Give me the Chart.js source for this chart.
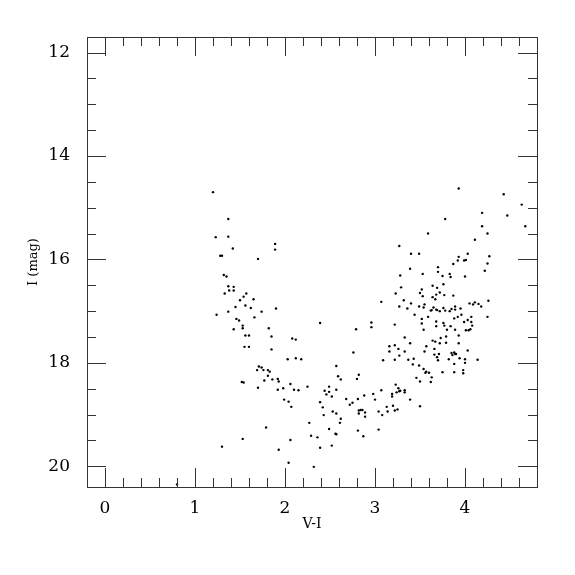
<HTML>

<head>
  <script src="https://cdn.jsdelivr.net/npm/chart.js@4.4.0/dist/chart.umd.min.js"></script>
  <style>
    body {
      margin: 0;
      background-color: white;
    }
  </style>
</head>

<body>
  <canvas id="myChart" width="575" height="575"></canvas>

  <script>
    // V-I colour and I magnitude
    var vi = [
      1.20, 1.37, 1.23, 1.37, 1.42, 1.89, 1.89, 1.28, 1.30, 1.70, 1.32, 1.35, 1.37, 1.43, 1.38, 1.43, 1.33, 1.57, 1.54, 1.50,
      1.65, 1.45, 1.56, 1.62, 1.90, 1.24, 1.37, 1.74, 1.66, 1.46, 1.49, 1.53, 1.53, 1.43, 1.82, 2.39,
      2.79, 1.56, 1.60, 1.85, 2.08, 2.12, 1.55, 1.60, 1.85, 2.76, 2.03, 2.12, 2.18, 2.57, 1.71, 1.74, 1.69, 1.76, 1.81, 1.83,
      2.82, 2.59, 1.81, 2.80, 2.62, 1.92, 1.77, 1.86, 1.93, 1.52, 1.54, 2.06, 2.49, 2.25, 1.70, 1.92, 1.98, 2.10, 2.15, 2.44,
      2.49, 2.57, 2.46, 2.52, 2.68, 2.81, 2.75, 2.72, 1.99, 2.04, 2.39, 2.07, 2.42, 2.82, 2.53, 2.57, 2.82, 2.43, 2.62, 2.61,
      2.27, 1.79, 2.49, 2.81, 2.56, 2.57, 2.29, 2.36, 1.53, 2.06, 2.52, 2.39, 1.30, 1.93, 2.04, 2.32, 0.80,
      3.93, 4.43, 4.63, 4.19, 4.47, 3.78, 4.67, 4.19, 3.59, 4.25, 4.11, 3.27, 3.40, 3.49, 4.03, 4.27, 3.93, 3.92, 3.99, 4.01,
      4.25, 3.87, 3.70, 3.39, 3.70, 3.83, 4.22, 3.28, 3.53, 3.75, 3.84, 4.00, 3.76, 3.29, 3.64, 3.69, 3.52, 3.72, 3.50, 3.68,
      3.23, 3.53, 3.64, 3.77, 3.87, 3.32, 3.67, 3.07, 3.40, 4.05, 4.09, 4.11, 4.15, 4.18, 4.26, 3.27, 3.36, 3.49, 3.54, 3.55,
      3.62, 3.63, 3.65, 3.68, 3.69, 3.72, 3.76, 3.78, 3.83, 3.85, 3.89, 3.89, 3.95, 3.88, 3.92, 3.96, 3.99, 4.03, 4.07, 4.07,
      4.25, 3.44, 3.52, 3.59, 3.68, 3.68, 3.52, 3.76, 3.77, 3.84, 2.96, 2.96, 3.22,
      4.08, 3.54, 3.80, 3.89, 4.01, 4.04, 4.06, 3.93, 3.79, 3.73, 3.33, 3.64, 3.67, 3.72, 3.79, 3.93, 3.16, 3.22, 3.39, 3.26,
      3.57, 3.66, 3.16, 3.33, 3.55, 4.03, 3.66, 3.71, 3.85, 3.88, 3.89, 3.86, 3.90, 3.27, 3.69, 3.94, 4.00, 4.14, 3.82, 3.70,
      3.09, 3.22, 3.37, 3.43, 4.00, 3.88, 3.42, 3.49, 3.54, 3.57, 3.56, 3.60, 3.75, 3.88, 3.98, 3.98, 3.63, 3.46, 3.50, 3.62,
      3.23, 3.26, 3.28, 3.27, 3.24, 3.33, 3.33, 3.07, 2.98, 3.19, 3.19, 2.88, 3.00, 3.39, 3.13, 3.20, 3.50, 2.84, 2.86, 2.89,
      3.04, 3.14, 3.22, 3.25, 3.08, 2.89, 3.04, 2.87
    ];
    var imag = [
      14.70, 15.22, 15.57, 15.56, 15.79, 15.70, 15.81, 15.93, 15.93, 15.99, 16.30, 16.33, 16.52, 16.53, 16.60, 16.60, 16.66, 16.66, 16.72, 16.79,
      16.77, 16.92, 16.89, 16.94, 16.95, 17.07, 17.01, 17.01, 17.12, 17.15, 17.18, 17.28, 17.33, 17.35, 17.33, 17.23,
      17.35, 17.47, 17.47, 17.49, 17.53, 17.55, 17.69, 17.69, 17.74, 17.80, 17.93, 17.91, 17.93, 18.06, 18.07, 18.09, 18.14, 18.14, 18.14, 18.17,
      18.23, 18.26, 18.25, 18.31, 18.32, 18.31, 18.34, 18.32, 18.36, 18.37, 18.38, 18.41, 18.46, 18.46, 18.48, 18.52, 18.49, 18.52, 18.53, 18.54,
      18.56, 18.52, 18.61, 18.65, 18.70, 18.70, 18.77, 18.81, 18.71, 18.75, 18.76, 18.85, 18.86, 18.92, 18.94, 18.98, 18.98, 19.01, 19.08, 19.16,
      19.16, 19.25, 19.28, 19.31, 19.37, 19.38, 19.41, 19.44, 19.47, 19.49, 19.60, 19.64, 19.62, 19.68, 19.93, 20.01, 20.35,
      14.63, 14.74, 14.94, 15.10, 15.15, 15.22, 15.36, 15.36, 15.50, 15.50, 15.62, 15.74, 15.89, 15.89, 15.89, 15.94, 15.95, 16.02, 16.02, 16.01,
      16.08, 16.09, 16.15, 16.18, 16.24, 16.28, 16.22, 16.31, 16.28, 16.32, 16.34, 16.33, 16.48, 16.54, 16.51, 16.55, 16.58, 16.64, 16.65, 16.68,
      16.66, 16.71, 16.73, 16.69, 16.70, 16.79, 16.77, 16.82, 16.85, 16.85, 16.87, 16.83, 16.86, 16.91, 16.80, 16.91, 16.95, 16.91, 16.93, 16.87,
      16.99, 16.98, 16.93, 16.97, 16.98, 17.00, 16.94, 16.99, 17.00, 16.96, 16.91, 16.97, 16.95, 17.14, 17.11, 17.07, 17.21, 17.17, 17.11, 17.21,
      17.11, 17.07, 17.15, 17.11, 17.20, 17.29, 17.24, 17.23, 17.28, 17.29, 17.22, 17.31, 17.26,
      17.28, 17.36, 17.36, 17.36, 17.37, 17.37, 17.35, 17.47, 17.49, 17.52, 17.51, 17.57, 17.59, 17.62, 17.61, 17.62, 17.68, 17.66, 17.62, 17.73,
      17.68, 17.73, 17.78, 17.78, 17.78, 17.76, 17.84, 17.83, 17.81, 17.80, 17.83, 17.85, 17.83, 17.86, 17.89, 17.91, 17.93, 17.94, 17.93, 17.95,
      17.95, 17.94, 17.94, 17.92, 18.00, 18.02, 18.03, 18.05, 18.12, 18.17, 18.19, 18.19, 18.18, 18.18, 18.14, 18.20, 18.28, 18.29, 18.36, 18.37,
      18.42, 18.49, 18.54, 18.55, 18.57, 18.53, 18.57, 18.53, 18.60, 18.60, 18.65, 18.63, 18.71, 18.71, 18.85, 18.83, 18.84, 18.91, 18.91, 18.96,
      18.94, 18.94, 18.92, 18.90, 19.01, 19.04, 19.29, 19.42
    ];
    var xTicks = [0, 1, 2, 3, 4];
    var yTicks = [12, 14, 16, 18, 20];
    var xMinor = [0.2, 0.4, 0.6, 0.8, 1.2, 1.4, 1.6, 1.8, 2.2, 2.4, 2.6, 2.8, 3.2, 3.4, 3.6, 3.8, 4.2, 4.4, 4.6];
    var yMinor = [12.5, 13, 13.5, 14.5, 15, 15.5, 16.5, 17, 17.5, 18.5, 19, 19.5];

    var points = vi.map(function (v, i) { return { x: v, y: imag[i] }; });

    // box with inward ticks on all four sides
    var frameTicks = {
      id: 'frameTicks',
      afterDraw: function (chart) {
        var ctx = chart.ctx;
        var a = chart.chartArea;
        var xs = chart.scales.x;
        var ys = chart.scales.y;
        ctx.save();
        ctx.strokeStyle = '#333';
        ctx.lineWidth = 1;
        ctx.strokeRect(a.left + 0.5, a.top + 0.5, a.right - a.left, a.bottom - a.top);
        ctx.beginPath();
        function xt(v, len) {
          var p = Math.round(xs.getPixelForValue(v)) + 0.5;
          ctx.moveTo(p, a.bottom); ctx.lineTo(p, a.bottom - len);
          ctx.moveTo(p, a.top); ctx.lineTo(p, a.top + len);
        }
        function yt(v, len) {
          var p = Math.round(ys.getPixelForValue(v)) + 0.5;
          ctx.moveTo(a.left, p); ctx.lineTo(a.left + len, p);
          ctx.moveTo(a.right, p); ctx.lineTo(a.right - len, p);
        }
        xTicks.forEach(function (v) { xt(v, 19); });
        xMinor.forEach(function (v) { xt(v, 9); });
        yTicks.forEach(function (v) { yt(v, 19); });
        yMinor.forEach(function (v) { yt(v, 9); });
        ctx.stroke();
        ctx.restore();
      }
    };

    var ctx = document.getElementById('myChart').getContext('2d');
    var chart = new Chart(ctx, {
      type: 'scatter',
      data: {
        datasets: [{
          data: points,
          backgroundColor: '#000',
          borderWidth: 0,
          pointRadius: 1.2
        }]
      },
      options: {
        responsive: false,
        animation: false,
        layout: {
          padding: { top: 37, right: 38, left: 0, bottom: 0 }
        },
        plugins: {
          legend: { display: false },
          tooltip: { enabled: false }
        },
        scales: {
          x: {
            type: 'linear',
            min: -0.2,
            max: 4.8,
            afterFit: function (s) { s.height = 88; },
            afterBuildTicks: function (s) { s.ticks = xTicks.map(function (v) { return { value: v }; }); },
            grid: { display: false },
            border: { display: false },
            ticks: {
              padding: 3,
              color: '#000',
              font: { family: 'DejaVu Serif', size: 17 }
            },
            title: {
              display: true,
              text: 'V-I',
              color: '#000',
              font: { family: 'DejaVu Serif', size: 14 },
              padding: { top: 0, bottom: 42 }
            }
          },
          y: {
            type: 'linear',
            reverse: true,
            min: 11.7,
            max: 20.4,
            afterFit: function (s) { s.width = 87; },
            afterBuildTicks: function (s) { s.ticks = yTicks.map(function (v) { return { value: v }; }); },
            grid: { display: false },
            border: { display: false },
            ticks: {
              padding: 9,
              color: '#000',
              font: { family: 'DejaVu Serif', size: 17 }
            },
            title: {
              display: true,
              text: 'I (mag)',
              color: '#000',
              font: { family: 'DejaVu Serif', size: 13 },
              padding: { top: 26, bottom: 0 }
            }
          }
        }
      },
      plugins: [frameTicks]
    });
  </script>
</body>

</HTML>
